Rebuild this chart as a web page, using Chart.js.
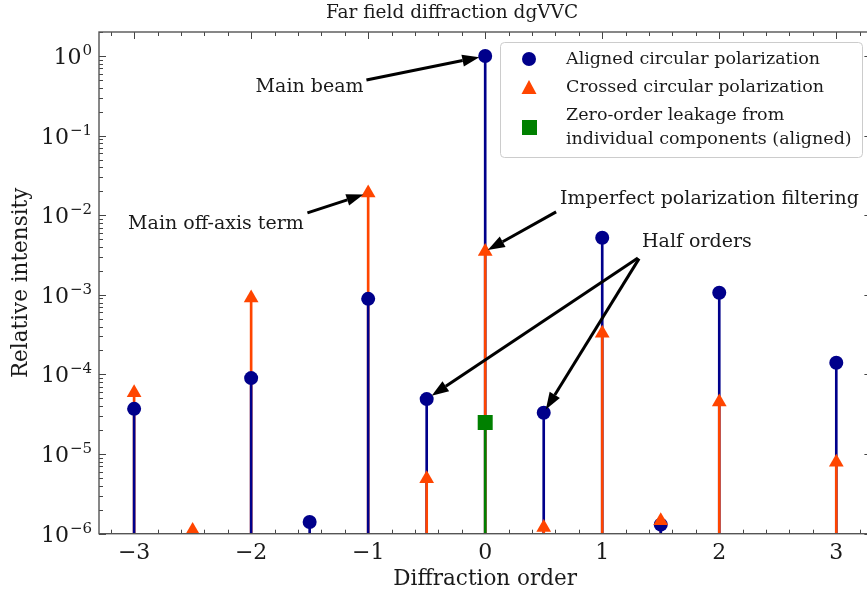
<!DOCTYPE html>
<html>
<head>
<meta charset="utf-8">
<script src="https://cdn.jsdelivr.net/npm/chart.js@4.4.1/dist/chart.umd.min.js"></script>
<style>
  html, body { margin: 0; padding: 0; background: #fff; overflow: hidden; }
</style>
</head>
<body>
<canvas id="farfield" width="882" height="596"></canvas>
<script>
// diffraction orders and relative intensities
const orders = [-3, -2.5, -2, -1.5, -1, -0.5, 0, 0.5, 1, 1.5, 2, 2.5, 3];
const aligned = [3.7e-5, null, 9.0e-5, 1.4e-6, 8.9e-4, 4.9e-5, 1.0, 3.3e-5, 5.2e-3, 1.3e-6, 1.06e-3, null, 1.4e-4];
const crossed = [5.9e-5, 1.1e-6, 9.1e-4, null, 0.019, 4.9e-6, 3.5e-3, 1.2e-6, 3.3e-4, 1.45e-6, 4.5e-5, null, 7.9e-6];
const leakageOrders = [0];
const leakage = [2.5e-5];

const xTicks = [-3, -2, -1, 0, 1, 2, 3];
const yTicks = [1e-6, 1e-5, 1e-4, 1e-3, 1e-2, 1e-1, 1];

const NAVY = '#00008b';
const ORANGE = '#ff4500';
const GREEN = '#008000';
const INK = '#1a1a1a';
const FONT = "'DejaVu Serif', 'Liberation Serif', serif";

function points(xs, ys) {
  return xs.map(function (x, i) { return { x: x, y: ys[i] }; })
           .filter(function (p) { return p.y !== null; });
}

// split stems so the shorter one of each order sits on top
function stems(xs, ys, other, longer) {
  return points(xs, ys).filter(function (p) {
    var o = other[xs.indexOf(p.x)];
    var isLong = o === null || p.y >= o;
    return longer ? isLong : !isLong;
  });
}

// arrows + labels, positions in data units
const notes = [
  { text: 'Main beam', tx: -1.04, ty: 0.41, align: 'right', from: [-1.015, 0.50], to: [0, 1], shrink: 6 },
  { text: 'Main off-axis term', tx: -1.55, ty: 7.8e-3, align: 'right', from: [-1.519, 0.0107], to: [-1, 0.019], shrink: 5 },
  { text: 'Imperfect polarization filtering', tx: 0.64, ty: 0.016, align: 'left', from: [0.606, 0.011], to: [0, 3.5e-3], shrink: 3 },
  { text: 'Half orders', tx: 1.34, ty: 4.6e-3, align: 'left', from: [1.305, 2.91e-3], to: [-0.5, 4.9e-5], shrink: 6 },
  { text: null, from: [1.315, 2.85e-3], to: [0.5, 3.3e-5], shrink: 4 }
];

function arrow(ctx, x0, y0, x1, y1) {
  var a = Math.atan2(y1 - y0, x1 - x0);
  var hl = 17, hw = 6;
  var bx = x1 - hl * Math.cos(a), by = y1 - hl * Math.sin(a);
  ctx.strokeStyle = '#000';
  ctx.fillStyle = '#000';
  ctx.lineWidth = 3;
  ctx.beginPath();
  ctx.moveTo(x0, y0);
  ctx.lineTo(bx, by);
  ctx.stroke();
  ctx.beginPath();
  ctx.moveTo(x1, y1);
  ctx.lineTo(bx - hw * Math.sin(a), by + hw * Math.cos(a));
  ctx.lineTo(bx + hw * Math.sin(a), by - hw * Math.cos(a));
  ctx.closePath();
  ctx.fill();
}

// inward ticks on all four sides (under the stems), frame and 10^n labels on top
const frame = {
  id: 'frame',
  beforeDatasetsDraw: function (chart) {
    var ctx = chart.ctx, a = chart.chartArea;
    var xs = chart.scales.x, ys = chart.scales.y;
    ctx.save();
    ctx.strokeStyle = '#444';
    ctx.lineWidth = 1;
    ctx.beginPath();
    var i, px, py, d, m;
    for (i = -16; i <= 16; i++) {
      var v = i * 0.2;
      if (v < xs.min || v > xs.max) continue;
      var len = (i % 5 === 0) ? 7 : 4;
      px = Math.round(xs.getPixelForValue(v)) + 0.5;
      ctx.moveTo(px, a.bottom); ctx.lineTo(px, a.bottom - len);
      ctx.moveTo(px, a.top); ctx.lineTo(px, a.top + len);
    }
    for (d = -6; d <= 0; d++) {
      for (m = 1; m <= 9; m++) {
        var val = m * Math.pow(10, d);
        if (val < ys.min || val > ys.max) continue;
        var l = (m === 1) ? 7 : 4;
        py = Math.round(ys.getPixelForValue(val)) + 0.5;
        ctx.moveTo(a.left, py); ctx.lineTo(a.left + l, py);
        ctx.moveTo(a.right, py); ctx.lineTo(a.right - l, py);
      }
    }
    ctx.stroke();
    ctx.restore();
  },
  afterDatasetsDraw: function (chart) {
    var ctx = chart.ctx, a = chart.chartArea;
    var ys = chart.scales.y;
    ctx.save();
    ctx.lineWidth = 1.4;
    ctx.strokeStyle = '#555';
    ctx.strokeRect(a.left, a.top, a.right - a.left, a.bottom - a.top);

    // y tick labels with real superscripts
    ctx.fillStyle = INK;
    ctx.textBaseline = 'alphabetic';
    ctx.textAlign = 'left';
    yTicks.forEach(function (t) {
      var y = ys.getPixelForValue(t);
      var e = Math.round(Math.log10(t));
      var exp = e < 0 ? '\u2212' + Math.abs(e) : String(e);
      ctx.font = '15px ' + FONT;
      var ew = ctx.measureText(exp).width;
      ctx.font = '22px ' + FONT;
      var bw = ctx.measureText('10').width;
      var right = a.left - 7;
      ctx.fillText('10', right - ew - bw - 1, y + 8);
      ctx.font = '15px ' + FONT;
      ctx.fillText(exp, right - ew, y - 1);
    });
    ctx.restore();
  }
};

const overlay = {
  id: 'overlay',
  afterDraw: function (chart) {
    var ctx = chart.ctx;
    var xs = chart.scales.x, ys = chart.scales.y;
    ctx.save();

    // annotations
    ctx.font = '19px ' + FONT;
    ctx.textBaseline = 'middle';
    notes.forEach(function (n) {
      var x0 = xs.getPixelForValue(n.from[0]), y0 = ys.getPixelForValue(n.from[1]);
      var x1 = xs.getPixelForValue(n.to[0]), y1 = ys.getPixelForValue(n.to[1]);
      var dist = Math.hypot(x1 - x0, y1 - y0);
      x1 -= (x1 - x0) / dist * n.shrink;
      y1 -= (y1 - y0) / dist * n.shrink;
      arrow(ctx, x0, y0, x1, y1);
      if (n.text) {
        ctx.fillStyle = INK;
        ctx.textAlign = n.align;
        ctx.fillText(n.text, xs.getPixelForValue(n.tx), ys.getPixelForValue(n.ty));
      }
    });

    // legend
    var lx = 500, ly = 42, lw = 362, lh = 115;
    ctx.beginPath();
    ctx.roundRect(lx + 0.5, ly + 0.5, lw, lh, 4);
    ctx.fillStyle = 'rgba(255,255,255,0.85)';
    ctx.fill();
    ctx.strokeStyle = '#cccccc';
    ctx.lineWidth = 1;
    ctx.stroke();

    ctx.fillStyle = NAVY;
    ctx.beginPath(); ctx.arc(529, 59, 7, 0, Math.PI * 2); ctx.fill();
    ctx.fillStyle = ORANGE;
    ctx.beginPath(); ctx.moveTo(529, 80); ctx.lineTo(536.5, 94); ctx.lineTo(521.5, 94); ctx.closePath(); ctx.fill();
    ctx.fillStyle = GREEN;
    ctx.fillRect(522, 120, 15, 15);

    ctx.fillStyle = INK;
    ctx.textAlign = 'left';
    ctx.font = '17.5px ' + FONT;
    ctx.fillText('Aligned circular polarization', 566, 59);
    ctx.fillText('Crossed circular polarization', 566, 87);
    ctx.fillText('Zero-order leakage from', 566, 115);
    ctx.fillText('individual components (aligned)', 566, 139);

    // title
    ctx.textAlign = 'center';
    ctx.font = '18.5px ' + FONT;
    ctx.fillText('Far field diffraction dgVVC', 452, 13);
    ctx.restore();
  }
};

function stemSet(data, color, order) {
  return { type: 'bar', data: data, backgroundColor: color, borderWidth: 0,
           barThickness: 2, grouped: false, order: order };
}

const ctx = document.getElementById('farfield');
const chart = new Chart(ctx, {
  data: {
    datasets: [
      stemSet(stems(orders, aligned, crossed, true), NAVY, 9),
      stemSet(stems(orders, crossed, aligned, true), ORANGE, 8),
      stemSet(stems(orders, aligned, crossed, false), NAVY, 7),
      stemSet(stems(orders, crossed, aligned, false), ORANGE, 6),
      stemSet(points(leakageOrders, leakage), GREEN, 5),
      { type: 'scatter', label: 'Aligned circular polarization', data: points(orders, aligned),
        pointStyle: 'circle', pointRadius: 7, backgroundColor: NAVY, borderWidth: 0, order: 4 },
      { type: 'scatter', label: 'Crossed circular polarization', data: points(orders, crossed),
        pointStyle: 'triangle', pointRadius: 8.5, backgroundColor: ORANGE, borderWidth: 0, order: 3 },
      { type: 'scatter', label: 'Zero-order leakage from individual components (aligned)',
        data: points(leakageOrders, leakage),
        pointStyle: 'rect', pointRadius: 10.6, backgroundColor: GREEN, borderWidth: 0, order: 2 }
    ]
  },
  options: {
    responsive: false,
    animation: false,
    events: [],
    layout: { padding: { top: 32, right: 0, left: 0, bottom: 0 } },
    plugins: {
      legend: { display: false },
      title: { display: false },
      tooltip: { enabled: false }
    },
    scales: {
      x: {
        type: 'linear',
        min: -3.3,
        max: 3.3,
        offset: false,
        grid: { display: false, drawTicks: false },
        border: { display: false },
        afterBuildTicks: function (s) { s.ticks = xTicks.map(function (v) { return { value: v }; }); },
        afterFit: function (s) { s.height = 62.3; },
        ticks: {
          padding: 6,
          color: INK,
          font: { family: FONT, size: 22 },
          maxRotation: 0,
          callback: function (v) { return v < 0 ? '\u2212' + Math.abs(v) : String(v); }
        },
        title: { display: true, text: 'Diffraction order', color: INK,
                 font: { family: FONT, size: 21.5 }, padding: { top: 0, bottom: 4 } }
      },
      y: {
        type: 'logarithmic',
        min: 1e-6,
        max: 2,
        grid: { display: false, drawTicks: false },
        border: { display: false },
        afterBuildTicks: function (s) { s.ticks = yTicks.map(function (v) { return { value: v }; }); },
        afterFit: function (s) { s.width = 99; },
        ticks: { display: false },
        title: { display: true, text: 'Relative intensity', color: INK,
                 font: { family: FONT, size: 21.5 }, padding: { top: 9, bottom: 0 } }
      }
    }
  },
  plugins: [frame, overlay]
});
</script>
</body>
</html>
